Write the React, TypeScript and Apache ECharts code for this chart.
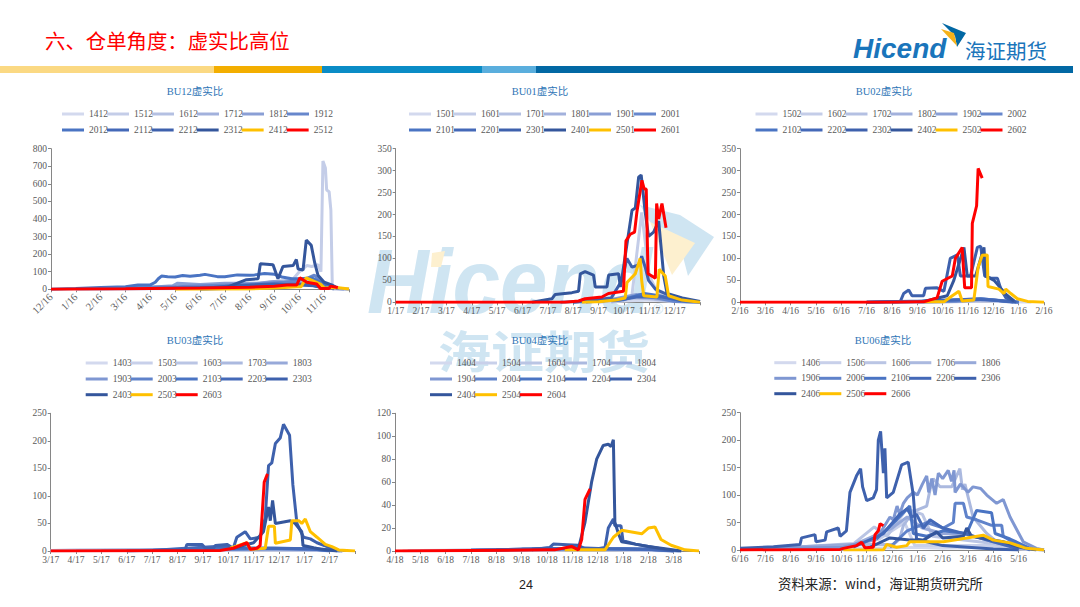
import React, { useEffect, useRef } from "react";
import * as echarts from "echarts";

type Pt = number[];

const SERIF = '"Liberation Serif","Noto Sans CJK SC",serif';
const palette12 = ["#d3d9ee", "#c4cde8", "#b4c0e2", "#a2b1dc", "#8a9fd5", "#6787cc", "#4a74c3", "#4469b8", "#3e61ad", "#34569c", "#ffc000", "#ff0000"];
const palette13 = ["#d3d9ee", "#c8d0ea", "#bac5e4", "#abb9df", "#97a9d9", "#7f97d2", "#5f82ca", "#4a74c3", "#4469b8", "#3e61ad", "#34569c", "#ffc000", "#ff0000"];

// ---- BU12 ----
const names12 = ["1412", "1512", "1612", "1712", "1812", "1912", "2012", "2112", "2212", "2312", "2412", "2512"];
const ticks12 = ["12/16", "1/16", "2/16", "3/16", "4/16", "5/16", "6/16", "7/16", "8/16", "9/16", "10/16", "11/16", ""];
const a1412: Pt[] = [[1, 0], [5, 3], [8, 8], [9.5, 15], [10.2, 30], [10.8, 20], [11.3, 5], [12, 0]];
const a1512: Pt[] = [[1, 2], [3, 3], [6, 8], [8, 15], [9, 30], [9.7, 50], [10, 100], [10.3, 135], [10.5, 130], [10.75, 140], [10.87, 100], [10.95, 730], [11.05, 690], [11.1, 565], [11.2, 555], [11.27, 450], [11.33, 0], [12, 0]];
const a1612: Pt[] = [[1, 1], [4, 5], [7, 15], [8.5, 25], [9.5, 40], [10.3, 60], [10.8, 30], [11.5, 5], [12, 0]];
const a1712: Pt[] = [[2, 3], [5, 10], [6.5, 20], [8, 25], [9, 45], [10, 55], [10.6, 35], [11.4, 8], [12, 0]];
const a1812: Pt[] = [[2, 5], [4, 12], [4.9, 20], [5.1, 35], [6, 28], [7, 35], [8.3, 35], [9, 45], [10, 35], [11, 12], [11.8, 0]];
const a1912: Pt[] = [[3, 10], [5, 15], [6.5, 22], [8, 28], [9.4, 40], [10.2, 55], [10.6, 80], [11, 35], [11.5, 10]];
const a2012: Pt[] = [[0, 0], [1, 4], [2, 10], [3, 15], [3.5, 25], [4, 25], [4.2, 40], [4.32, 60], [4.45, 75], [4.7, 72], [5, 70], [5.3, 78], [5.6, 74], [6, 80], [6.2, 85], [6.7, 72], [7, 72], [7.5, 82], [8, 80], [8.2, 82], [8.6, 90], [9, 85], [9.3, 70], [9.7, 60], [10, 60], [10.5, 65], [11, 30], [11.6, 5]];
const a2112: Pt[] = [[4, 5], [6, 10], [8, 15], [9, 25], [9.9, 30], [10.4, 25], [11, 12], [11.4, 3]];
const a2212: Pt[] = [[6, 3], [7.3, 20], [8, 25], [9, 30], [10, 25], [10.6, 20], [11, 5]];
const a2312: Pt[] = [[6, 0], [7, 5], [7.33, 25], [7.87, 55], [8.34, 60], [8.43, 145], [8.94, 140], [9.14, 60], [9.34, 130], [9.75, 135], [9.88, 170], [9.95, 115], [10.15, 110], [10.28, 280], [10.48, 250], [10.62, 150], [10.75, 80], [11, 40], [11.3, 25], [11.55, 5]];
const a2412: Pt[] = [[5, 0], [8, 2], [9.4, 10], [9.9, 15], [10.07, 15], [10.28, 65], [10.6, 45], [10.85, 30], [11, 8], [11.5, 10], [12, 2]];
const a2512: Pt[] = [[0, 0], [3, 3], [6, 8], [8, 12], [9, 18], [9.5, 25], [9.9, 25], [10.02, 65], [10.3, 40], [10.7, 30], [10.85, 5], [11.2, 5], [11.25, 18], [11.55, 10]];
const data12 = [a1412, a1512, a1612, a1712, a1812, a1912, a2012, a2112, a2212, a2312, a2412, a2512];

// ---- BU01 ----
const names01 = ["1501", "1601", "1701", "1801", "1901", "2001", "2101", "2201", "2301", "2401", "2501", "2601"];
const ticks01 = ["1/17", "2/17", "3/17", "4/17", "5/17", "6/17", "7/17", "8/17", "9/17", "10/17", "11/17", "12/17", ""];
const b1501: Pt[] = [[8, 0], [9, 3], [10, 5], [11, 2], [12, 0]];
const b1601: Pt[] = [[8, 0], [9.3, 8], [9.7, 205], [10, 60], [10.3, 25], [11, 3], [12, 0]];
const b1701: Pt[] = [[8.5, 0], [9.3, 10], [10, 8], [11, 2], [12, 0]];
const b1801: Pt[] = [[8.5, 1], [9.4, 14], [10, 10], [11, 3], [12, 0]];
const b1901: Pt[] = [[8, 1], [9.5, 18], [10.2, 12], [11, 3], [12, 0]];
const b2001: Pt[] = [[7.5, 0], [9, 8], [9.6, 16], [10.3, 10], [11, 2], [12, 0]];
const b2101: Pt[] = [[7, 0], [9, 6], [9.8, 20], [10.4, 15], [11.2, 4], [12, 1]];
const b2201: Pt[] = [[6.5, 0], [8.8, 5], [9.5, 12], [10.5, 12], [11.4, 3], [12, 1]];
const b2301: Pt[] = [[7, 0], [8.5, 10], [8.92, 50], [9.12, 100], [9.32, 80], [9.58, 85], [9.7, 105], [9.84, 80], [9.97, 50], [10.24, 30], [10.63, 20], [11.2, 5], [12, 1]];
const b2401: Pt[] = [[5.37, 0], [6.16, 8], [6.29, 18], [6.95, 22], [7.21, 25], [7.28, 65], [7.47, 70], [7.8, 62], [7.87, 35], [8.33, 35], [8.4, 62], [8.79, 65], [8.86, 35], [8.92, 55], [9.32, 210], [9.45, 215], [9.58, 285], [9.68, 290], [9.84, 205], [9.97, 150], [10.17, 160], [10.37, 185], [10.57, 60], [10.7, 20], [11.3, 10], [12, 2]];
const b2501: Pt[] = [[7.34, 0], [8, 1], [8.66, 5], [9.05, 10], [9.12, 45], [9.45, 65], [9.64, 100], [9.7, 50], [9.78, 15], [10.3, 12], [10.39, 75], [10.63, 60], [10.76, 15], [11.29, 5], [12, 0]];
const b2601: Pt[] = [[0, 0], [6.68, 0], [7.21, 3], [7.47, 8], [8.13, 12], [8.39, 20], [8.98, 25], [9.08, 140], [9.25, 155], [9.42, 160], [9.51, 205], [9.71, 278], [9.8, 258], [9.88, 258], [9.95, 65], [10.24, 55], [10.29, 225], [10.37, 190], [10.5, 225], [10.66, 170]];
const data01 = [b1501, b1601, b1701, b1801, b1901, b2001, b2101, b2201, b2301, b2401, b2501, b2601];

// ---- BU02 ----
const names02 = ["1502", "1602", "1702", "1802", "1902", "2002", "2102", "2202", "2302", "2402", "2502", "2602"];
const ticks02 = ["2/16", "3/16", "4/16", "5/16", "6/16", "7/16", "8/16", "9/16", "10/16", "11/16", "12/16", "1/16", "2/16"];
const c1502: Pt[] = [[7, 0], [8.5, 1], [9.5, 3], [10.5, 1], [11.5, 0]];
const c1602: Pt[] = [[7, 0], [9, 2], [10, 4], [11, 1]];
const c1702: Pt[] = [[7, 0], [8.8, 3], [9.6, 5], [10.6, 1]];
const c1802: Pt[] = [[7, 0], [9, 3], [9.8, 6], [10.8, 1]];
const c1902: Pt[] = [[6, 0], [8.5, 2], [9.6, 7], [10.5, 2], [11, 0]];
const c2002: Pt[] = [[6, 0], [8.5, 3], [9.5, 8], [10.5, 3], [11, 0]];
const c2102: Pt[] = [[5, 0], [7, 2], [8.4, 5], [9.5, 8], [10.4, 3], [11, 0]];
const c2202: Pt[] = [[5, 0], [7.2, 3], [8.2, 5], [9.3, 7], [10.2, 4], [10.8, 0]];
const c2302: Pt[] = [[5, 0], [6.33, 2], [6.46, 20], [6.66, 28], [6.79, 15], [7.25, 15], [7.32, 32], [7.78, 33], [8.05, 25], [8.3, 100], [8.58, 108], [8.7, 60], [8.97, 60], [9.1, 60], [9.37, 125], [9.5, 128], [9.66, 60], [9.9, 55], [10.16, 55], [10.3, 30], [10.5, 10], [10.9, 0]];
const c2402: Pt[] = [[7.25, 2], [8.18, 15], [8.44, 50], [8.84, 125], [8.97, 60], [9.3, 60], [9.63, 125], [9.7, 60], [10.03, 50], [10.5, 18], [10.82, 3]];
const c2502: Pt[] = [[7.25, 1], [8.05, 1], [8.38, 15], [8.64, 25], [8.77, 3], [9.23, 5], [9.4, 80], [9.56, 107], [9.76, 108], [9.79, 36], [10.22, 30], [10.42, 20], [10.49, 30], [10.69, 20], [10.95, 8], [11.35, 2], [12, 0]];
const c2602: Pt[] = [[0, 0], [6, 0], [7.25, 1], [7.78, 10], [7.98, 48], [8.38, 60], [8.5, 100], [8.77, 125], [8.87, 33], [9.14, 33], [9.17, 180], [9.34, 220], [9.4, 305], [9.56, 283]];
const data02 = [c1502, c1602, c1702, c1802, c1902, c2002, c2102, c2202, c2302, c2402, c2502, c2602];

// ---- BU03 ----
const names03 = ["1403", "1503", "1603", "1703", "1803", "1903", "2003", "2103", "2203", "2303", "2403", "2503", "2603"];
const ticks03 = ["3/17", "4/17", "5/17", "6/17", "7/17", "8/17", "9/17", "10/17", "11/17", "12/17", "1/17", "2/17", ""];
const d1403: Pt[] = [[0, 0], [4, 1], [7, 1], [9, 2], [10.5, 1], [11, 0]];
const d1503: Pt[] = [[0, 1], [1, 2], [3, 1], [7, 2], [9, 2], [10.5, 1]];
const d1603: Pt[] = [[0, 1], [2, 2], [5, 2], [8, 3], [10.5, 2], [11.5, 0]];
const d1703: Pt[] = [[1, 1], [3, 2], [6, 2], [8.5, 3], [10.5, 2], [11.5, 0]];
const d1803: Pt[] = [[2, 1], [4, 2], [6, 3], [8.5, 4], [10.8, 2], [11.5, 0]];
const d1903: Pt[] = [[3, 0], [4, 2], [6, 3], [8.6, 5], [10.6, 3], [11.5, 0]];
const d2003: Pt[] = [[3, 0], [5, 2], [7, 3], [8.8, 5], [10.5, 4], [11.4, 0]];
const d2103: Pt[] = [[4, 1], [5.5, 3], [7, 4], [9, 4], [10.4, 3], [11, 0]];
const d2203: Pt[] = [[4, 1], [5, 4], [6.5, 8], [7.2, 6], [8.8, 5], [10.2, 4], [11, 1]];
const d2303: Pt[] = [[4.3, 1], [5.3, 2], [5.37, 12], [5.96, 12], [6.1, 5], [6.42, 5], [6.49, 10], [6.95, 12], [7.2, 5], [7.34, 25], [7.67, 35], [7.87, 22], [8.26, 25], [8.46, 60], [8.59, 155], [8.72, 160], [8.86, 195], [9.05, 205], [9.18, 230], [9.42, 210], [9.55, 120], [9.71, 50], [9.97, 25], [10.24, 22], [10.5, 15], [10.9, 8], [11.3, 1]];
const d2403: Pt[] = [[7.2, 5], [8, 15], [8.39, 35], [8.59, 80], [8.66, 55], [8.75, 92], [8.86, 50], [9.45, 55], [9.64, 50], [9.9, 35], [9.95, 10], [10.37, 6], [10.7, 3], [11.3, 0]];
const d2503: Pt[] = [[7.08, 5], [7.74, 15], [7.87, 3], [8.46, 5], [8.59, 45], [8.82, 45], [8.86, 14], [9.45, 20], [9.51, 55], [9.78, 55], [9.9, 50], [10.04, 58], [10.24, 35], [10.5, 25], [10.83, 12], [11.09, 8], [11.36, 2], [12, 0]];
const d2603: Pt[] = [[0, 0], [6.68, 1], [7.2, 5], [7.74, 15], [7.87, 3], [8.13, 5], [8.26, 10], [8.33, 60], [8.42, 125], [8.55, 140]];
const data03 = [d1403, d1503, d1603, d1703, d1803, d1903, d2003, d2103, d2203, d2303, d2403, d2503, d2603];

// ---- BU04 ----
const names04 = ["1404", "1504", "1604", "1704", "1804", "1904", "2004", "2104", "2204", "2304", "2404", "2504", "2604"];
const ticks04 = ["4/18", "5/18", "6/18", "7/18", "8/18", "9/18", "10/18", "11/18", "12/18", "1/18", "2/18", "3/18", ""];
const e1404: Pt[] = [[0.3, 0], [3, 0.5], [8, 1], [10, 0.5], [11, 0]];
const e1504: Pt[] = [[0.5, 0.5], [4, 0.5], [8.5, 1], [10, 0.5], [11, 0]];
const e1604: Pt[] = [[1, 0.5], [4, 0.8], [8.5, 1.5], [10, 1], [11, 0]];
const e1704: Pt[] = [[2, 0.5], [4, 1], [8.5, 1.5], [10, 1], [11, 0]];
const e1804: Pt[] = [[3, 0.5], [5, 1], [8.8, 2], [10, 1], [11, 0]];
const e1904: Pt[] = [[3, 0.5], [5, 1], [7, 2], [9, 2], [10.5, 1], [11.3, 0]];
const e2004: Pt[] = [[3, 0.5], [5, 1.5], [6.5, 2], [9, 2], [10.5, 1], [11.3, 0]];
const e2104: Pt[] = [[3, 0.8], [5, 1.5], [6, 2], [8, 2], [10, 1.5], [11.2, 0]];
const e2204: Pt[] = [[4, 1], [5.4, 2], [6, 2.5], [6.5, 2], [7, 3], [8.3, 2], [10, 1.5], [11, 0]];
const e2304: Pt[] = [[5.4, 1], [6.1, 3], [6.25, 6], [6.8, 5.5], [7.24, 5], [7.5, 2], [8, 2], [8.29, 3], [8.42, 20], [8.62, 28], [8.68, 22], [8.92, 22], [9, 9], [9.5, 6], [10, 4], [11, 0]];
const e2404: Pt[] = [[7.24, 2], [7.5, 25], [7.76, 60], [7.96, 80], [8.22, 92], [8.42, 93], [8.53, 91], [8.62, 97], [8.68, 25], [8.82, 15], [8.95, 8], [9.47, 6], [10, 4], [10.66, 2], [11.3, 0]];
const e2504: Pt[] = [[6.7, 1], [8.29, 1], [8.62, 12], [8.95, 18], [9.74, 15], [10, 20], [10.26, 21], [10.5, 10], [10.9, 5], [11.45, 1], [12, 0]];
const e2604: Pt[] = [[0, 0], [6.05, 1], [6.3, 1], [6.97, 4], [7.24, 1], [7.37, 10], [7.5, 45], [7.7, 54]];
const data04 = [e1404, e1504, e1604, e1704, e1804, e1904, e2004, e2104, e2204, e2304, e2404, e2504, e2604];

// ---- BU06 ----
const names06 = ["1406", "1506", "1606", "1706", "1806", "1906", "2006", "2106", "2206", "2306", "2406", "2506", "2606"];
const ticks06 = ["6/16", "7/16", "8/16", "9/16", "10/16", "11/16", "12/16", "1/16", "2/16", "3/16", "4/16", "5/16", ""];
const f1406: Pt[] = [[0.5, 1], [4, 2], [6.9, 5], [8, 3], [10, 5], [11, 2], [12, 0]];
const f1506: Pt[] = [[0.5, 2], [4, 4], [5.5, 20], [6.5, 50], [6.9, 8], [8, 8], [10, 8], [11, 3], [12, 0]];
const f1606: Pt[] = [[1, 2], [4.5, 12], [5.3, 42], [5.8, 25], [6.58, 75], [7.2, 65], [7.6, 25], [8.5, 20], [10, 12], [11, 3], [12, 0]];
const f1706: Pt[] = [[1, 3], [5, 10], [6.05, 10], [6.3, 20], [6.45, 45], [6.84, 70], [7.37, 80], [7.5, 110], [7.63, 130], [7.9, 115], [8.36, 115], [8.55, 135], [8.68, 148], [8.78, 110], [8.88, 120], [9.2, 60], [9.74, 30], [10.13, 15], [11, 0]];
const f1806: Pt[] = [[1, 3], [4.5, 10], [5.5, 30], [6, 40], [6.6, 60], [7.2, 40], [8, 30], [9, 28], [10, 15], [11, 3], [12, 0]];
const f1906: Pt[] = [[0, 2], [4.08, 5], [5.39, 20], [5.92, 60], [6.05, 55], [6.2, 80], [6.3, 65], [6.45, 85], [6.6, 95], [6.84, 105], [7, 100], [7.2, 120], [7.37, 135], [7.45, 105], [7.57, 130], [7.7, 100], [7.83, 140], [8, 130], [8.22, 145], [8.35, 125], [8.45, 145], [8.49, 105], [8.7, 120], [9, 105], [9.2, 115], [9.5, 112], [9.74, 100], [10.13, 85], [10.39, 92], [10.66, 60], [11.18, 15], [11.7, 3], [12, 0]];
const f2006: Pt[] = [[5.92, 5], [6.6, 35], [7.37, 50], [8.03, 40], [8.42, 50], [8.49, 85], [8.82, 85], [8.95, 60], [9.34, 55], [9.93, 45], [10.33, 45], [10.39, 25], [10.92, 10], [11.45, 0]];
const f2106: Pt[] = [[5.39, 20], [6.18, 55], [6.7, 80], [6.84, 30], [7.37, 25], [8.03, 35], [8.95, 30], [9.34, 72], [9.93, 68], [10.07, 30], [10.66, 20], [11.45, 3]];
const f2206: Pt[] = [[4.47, 5], [5.66, 30], [6.3, 65], [6.6, 75], [6.78, 60], [6.97, 65], [7.24, 40], [7.5, 55], [8, 40], [9, 28], [10, 15], [11, 2]];
const f2306: Pt[] = [[0, 3], [1.32, 6], [2.37, 10], [2.43, 22], [2.96, 28], [3, 15], [3.36, 18], [3.42, 33], [3.88, 40], [3.95, 25], [4.2, 35], [4.34, 105], [4.6, 135], [4.76, 148], [4.84, 115], [5, 90], [5.26, 95], [5.39, 110], [5.46, 200], [5.55, 216], [5.66, 140], [5.72, 185], [5.79, 95], [6.05, 105], [6.38, 155], [6.64, 160], [6.84, 100], [6.97, 20], [7.37, 15], [8, 8], [9, 5], [10, 2], [11, 0]];
const f2406: Pt[] = [[5.13, 5], [5.92, 22], [6.7, 18], [7.24, 18], [7.76, 33], [8, 22], [8.82, 25], [8.95, 40], [9.14, 25], [9.74, 20], [10.39, 15], [11.05, 5], [11.7, 0]];
const f2506: Pt[] = [[4.08, 0], [5.66, 0], [5.79, 10], [6.18, 5], [6.58, 8], [6.7, 15], [8.03, 15], [8.95, 22], [9.6, 27], [10, 18], [10.66, 13], [11.3, 3], [12, 0]];
const f2606: Pt[] = [[0, 0], [3.95, 1], [4.08, 3], [4.6, 8], [4.8, 14], [4.93, 4], [5.26, 5], [5.33, 28], [5.46, 35], [5.53, 48], [5.66, 44]];
const data06 = [f1406, f1506, f1606, f1706, f1806, f1906, f2006, f2106, f2206, f2306, f2406, f2506, f2606];

interface Panel { title: string; names: string[]; ticks: string[]; data: Pt[][]; max: number; interval: number; rect: number[]; titleX: number; titleY: number; legendX: number; legendY: number[]; rotate: number; }

const panels: Panel[] = [
  { title: "BU12虚实比", names: names12, ticks: ticks12, data: data12, max: 800, interval: 100, rect: [51, 148.7, 298, 140.6], titleX: 195, titleY: 91, legendX: 62, legendY: [114, 130], rotate: 45 },
  { title: "BU01虚实比", names: names01, ticks: ticks01, data: data01, max: 350, interval: 50, rect: [395.7, 148.7, 304.3, 153.6], titleX: 540, titleY: 91, legendX: 409, legendY: [114, 130], rotate: 0 },
  { title: "BU02虚实比", names: names02, ticks: ticks02, data: data02, max: 350, interval: 50, rect: [740, 148.7, 304, 153.6], titleX: 884, titleY: 91, legendX: 755.5, legendY: [114, 130], rotate: 0 },
  { title: "BU03虚实比", names: names03, ticks: ticks03, data: data03, max: 250, interval: 50, rect: [50.7, 413.3, 304.3, 137.7], titleX: 195, titleY: 340, legendX: 85.7, legendY: [363, 379, 394.7], rotate: 0 },
  { title: "BU04虚实比", names: names04, ticks: ticks04, data: data04, max: 120, interval: 20, rect: [395, 413.3, 304, 137.7], titleX: 540, titleY: 340, legendX: 430, legendY: [363, 379, 394.7], rotate: 0 },
  { title: "BU06虚实比", names: names06, ticks: ticks06, data: data06, max: 250, interval: 50, rect: [740, 412.7, 304, 137.3], titleX: 883, titleY: 340, legendX: 774.3, legendY: [362.7, 378.3, 393.7], rotate: 0 },
];

const barSegments = [[0, 214, "#fbd983"], [214, 322, "#f3ae00"], [322, 482, "#0a8cc6"], [482, 536, "#5aaedd"], [536, 1073, "#0268a4"]] as [number, number, string][];

const WM = "#cfe5f2";
const WMY = "#fdf0cf";
const LOGO = "#1a75bb";

function buildOption() {
  const grid: any[] = [];
  const xAxis: any[] = [];
  const yAxis: any[] = [];
  const series: any[] = [];
  const legend: any[] = [];
  const graphic: any[] = [];

  // watermark
  graphic.push(
    { type: "text", z: 0, x: 367, y: 237, scaleX: 0.95, style: { text: "Hicend", font: 'italic bold 90px "Liberation Sans"', fill: WM } },
    { type: "polygon", z: 0, shape: { points: [[640, 205], [680, 215], [714, 237], [688, 276], [680, 245], [650, 222]] }, style: { fill: WM } },
    { type: "polygon", z: 0, shape: { points: [[650, 222], [695, 243], [672, 275]] }, style: { fill: WMY } },
    { type: "polygon", z: 0, shape: { points: [[432, 253], [445, 251], [441, 267], [431, 267]] }, style: { fill: WMY } },
    { type: "text", z: 0, x: 653, y: 302, style: { text: "®", font: '14px "Liberation Sans"', fill: WM } },
    { type: "text", z: 0, x: 438, y: 327, scaleY: 0.85, style: { text: "海证期货", font: 'bold 53px "Noto Sans CJK SC"', fill: WM } },
  );
  // header
  graphic.push(
    { type: "text", z: 1, x: 45, y: 30, style: { text: "六、仓单角度：虚实比高位", font: '20.4px "Noto Sans CJK SC"', fill: "#ff0000" } },
    { type: "text", z: 1, x: 853, y: 34, style: { text: "Hicend", font: 'italic bold 28px "Liberation Sans"', fill: LOGO } },
    { type: "text", z: 1, x: 965, y: 40, style: { text: "海证期货", font: '20.5px "Noto Sans CJK SC"', fill: LOGO } },
    { type: "polygon", z: 1, shape: { points: [[942, 23], [966, 33], [957, 47], [955, 36]] }, style: { fill: "#0268a4" } },
    { type: "polygon", z: 1, shape: { points: [[941, 29], [954, 33], [957, 46]] }, style: { fill: "#f5b21a" } },
    { type: "text", z: 1, x: 519, y: 578, style: { text: "24", font: '12.5px "Liberation Sans"', fill: "#222222" } },
    { type: "text", z: 1, x: 778, y: 576, style: { text: "资料来源：wind，海证期货研究所", font: '13.4px "Noto Sans CJK SC"', fill: "#222222" } },
  );
  for (const [a, b, c] of barSegments) {
    graphic.push({ type: "rect", z: 1, shape: { x: a, y: 66, width: b - a, height: 7 }, style: { fill: c } });
  }

  panels.forEach((p, i) => {
    const [l, t, w, h] = p.rect;
    const colors = p.names.length === 13 ? palette13 : palette12;
    grid.push({ left: l, top: t, width: w, height: h, containLabel: false });
    const align = p.rotate ? {} : { alignMinLabel: "center", alignMaxLabel: "center" };
    xAxis.push({
      type: "value", gridIndex: i, min: 0, max: 12, interval: 1,
      splitLine: { show: false },
      axisLine: { lineStyle: { color: "#868686", width: 1 } },
      axisTick: { show: true, length: 3, lineStyle: { color: "#868686" } },
      axisLabel: {
        fontFamily: SERIF, fontSize: p.rotate ? 10.5 : 9.5, color: "#595959", margin: p.rotate ? 6 : 4, rotate: p.rotate,
        hideOverlap: false, showMinLabel: true, showMaxLabel: true, ...align,
        formatter: (v: number) => p.ticks[v] ?? "",
      },
    });
    yAxis.push({
      type: "value", gridIndex: i, min: 0, max: p.max, interval: p.interval,
      splitLine: { show: false },
      axisLine: { show: true, lineStyle: { color: "#868686", width: 1 } },
      axisTick: { show: true, length: 3, lineStyle: { color: "#868686" } },
      axisLabel: { fontFamily: SERIF, fontSize: 9.5, color: "#595959", margin: 4, hideOverlap: false },
    });
    p.names.forEach((n, k) => {
      series.push({
        type: "line", name: n, xAxisIndex: i, yAxisIndex: i, data: p.data[k], symbol: "none", color: colors[k],
        lineStyle: { width: 3, color: colors[k] }, silent: true,
      });
    });
    graphic.push({ type: "text", z: 1, x: p.titleX, y: p.titleY, style: { text: p.title, font: '10.5px "Liberation Serif","Noto Sans CJK SC"', fill: "#2e75b6", align: "center", verticalAlign: "middle" } });
    const perRow = p.legendY.length === 2 ? 6 : 5;
    p.legendY.forEach((y, r) => {
      legend.push({
        left: p.legendX, top: y - 6, orient: "horizontal", itemWidth: 22, itemHeight: 3, itemGap: -1,
        icon: "rect", padding: 0, selectedMode: false,
        data: p.names.slice(r * perRow, (r + 1) * perRow),
        textStyle: { fontFamily: SERIF, fontSize: 9.5, color: "#595959", lineHeight: 12 },
      });
    });
  });

  return { animation: false, backgroundColor: "#ffffff", grid, xAxis, yAxis, series, legend, graphic, tooltip: { show: false } };
}

export default function App() {
  const ref = useRef<HTMLDivElement>(null);
  useEffect(() => {
    document.body.style.margin = "0";
    const chart = echarts.init(ref.current!, undefined, { renderer: "svg" });
    chart.setOption(buildOption() as any);
    return () => chart.dispose();
  }, []);
  return <div ref={ref} style={{ width: 1080, height: 607 }} />;
}
